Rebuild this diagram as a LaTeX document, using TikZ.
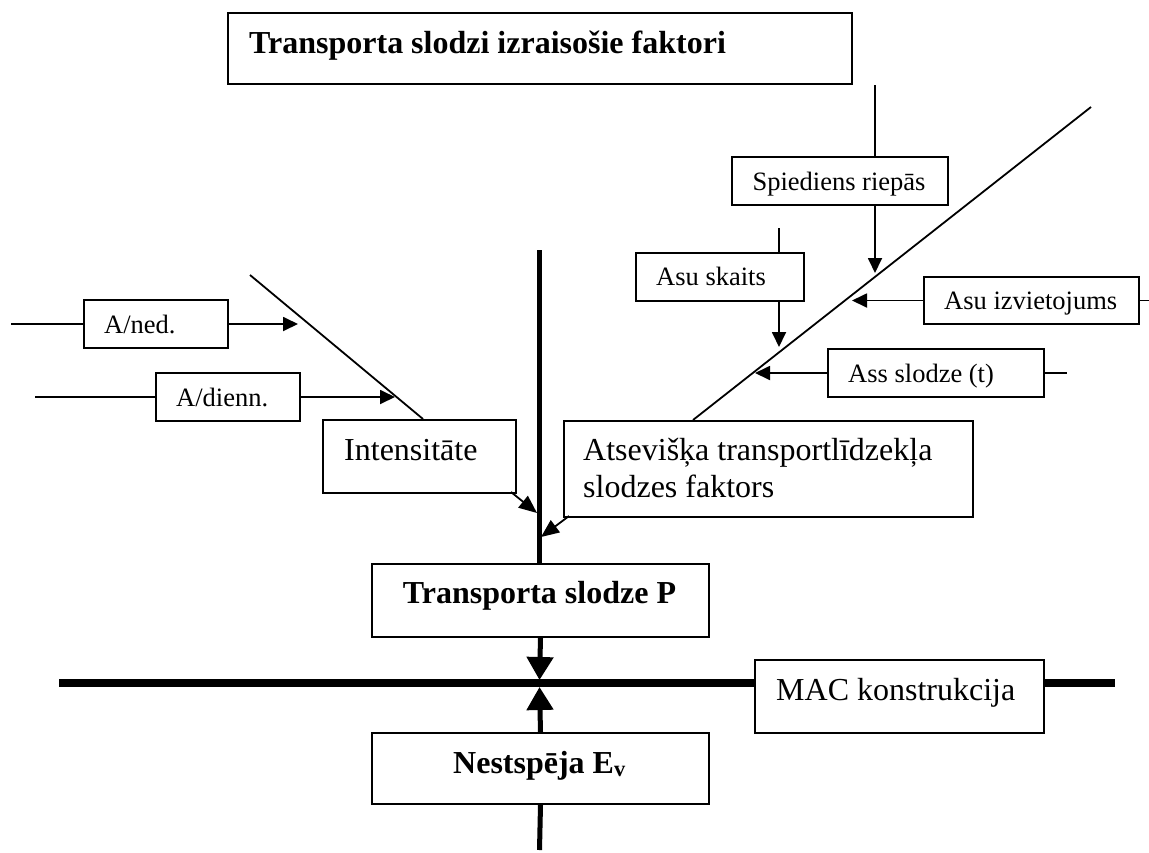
\documentclass[tikz,border=0pt]{standalone}
\usepackage{fontspec}
\setmainfont{Liberation Serif}
\usetikzlibrary{arrows.meta}
\begin{document}
\begin{tikzpicture}[x=1pt,y=-1pt,
 box/.style={draw,line width=2pt,fill=white,inner sep=0pt,anchor=north west},
 bigtxt/.style={font=\fontsize{32}{37}\selectfont,inner sep=0pt},
 bigbold/.style={font=\fontsize{32}{37}\selectfont\bfseries,inner sep=0pt},
 smalltxt/.style={font=\fontsize{26.5}{30}\selectfont,inner sep=0pt},
 thinln/.style={line width=1.8pt},
 arr/.style={thinln,-{Triangle[length=15pt,width=14pt]}},
 darr/.style={thinln,-{Triangle[length=18pt,width=15pt]}},
 heavy/.style={line width=5pt},
 heavyarr/.style={line width=5pt,-{Triangle[length=23pt,width=26pt]}},
 mac/.style={line width=8pt},
]
\useasboundingbox (0,0) rectangle (1149,852);

% ---------- coordinates ----------
\coordinate (dr1) at (1091,107);
\coordinate (dr2) at (693,420);
\coordinate (dl1) at (250,275);
\coordinate (dl2) at (423,419);
\coordinate (spx) at (875,0);
\coordinate (askx) at (779,228);
\coordinate (tipsp) at (875,273);
\coordinate (tipask) at (779,347);
\coordinate (tipizv) at (852,0);
\coordinate (tipass) at (755,0);
\coordinate (endizv) at (1149,0);
\coordinate (endass) at (1067,0);
\coordinate (startned) at (11,0);
\coordinate (tipned) at (298,0);
\coordinate (startdien) at (35,0);
\coordinate (tipdien) at (395,0);
\coordinate (vtop) at (539.5,250);
\coordinate (tipint) at (537,513);
\coordinate (tipats) at (541,537);
\coordinate (intstart) at (511,492);
\coordinate (atsstart) at (569,516);
\coordinate (macl) at (59,683);
\coordinate (macr) at (1115,683);
\coordinate (tipdown) at (539.5,680);
\coordinate (tipup) at (539.5,687);
\coordinate (vbot) at (539.5,850);

% ---------- lines behind boxes ----------
\draw[mac] (macl) -- (macr);
\draw[thinln] (dr1) -- (dr2);
\draw[thinln] (dl1) -- (dl2);

% ---------- boxes ----------
\node[box,minimum width=624,minimum height=71] (title) at (227,12) {};
\node[box,minimum width=216,minimum height=48] (spied) at (731,156) {};
\node[box,minimum width=168,minimum height=48] (asusk) at (635,252) {};
\node[box,minimum width=215,minimum height=47] (asuizv) at (923,276) {};
\node[box,minimum width=216,minimum height=48] (assl) at (827,348) {};
\node[box,minimum width=409,minimum height=96] (atsev) at (563,420) {};
\node[box,minimum width=193,minimum height=73] (intens) at (322,419) {};
\node[box,minimum width=144,minimum height=48] (aned) at (83,299) {};
\node[box,minimum width=144,minimum height=48] (adien) at (155,372) {};
\node[box,minimum width=337,minimum height=73] (tslod) at (371,563) {};
\node[box,minimum width=289,minimum height=73] (macbox) at (754,659) {};
\node[box,minimum width=337,minimum height=71] (nest) at (371,732) {};

% ---------- texts ----------
\node[bigbold,anchor=base west] (ttitle) at (249,53) {Transporta slodzi izraisošie faktori};
\node[smalltxt,anchor=base] (tspied) at (839,190) {Spiediens riepās};
\node[smalltxt,anchor=base west] (tasusk) at (656,285) {Asu skaits};
\node[smalltxt,anchor=base west] (tasuizv) at (944,309) {Asu izvietojums};
\node[smalltxt,anchor=base west] (tassl) at (848,382) {Ass slodze (t)};
\node[bigtxt,anchor=base west] (tatsev1) at (583,460) {Atsevišķa transportlīdzekļa};
\node[bigtxt,anchor=base west] (tatsev2) at (583,497) {slodzes faktors};
\node[bigtxt,anchor=base west] (tintens) at (344,460) {Intensitāte};
\node[smalltxt,anchor=base west] (taned) at (104,333) {A/ned.};
\node[smalltxt,anchor=base west] (tadien) at (176,406) {A/dienn.};
\node[bigbold,anchor=base] (ttslod) at (539.5,603) {Transporta slodze P};
\node[bigtxt,anchor=base west] (tmac) at (776,700) {MAC konstrukcija};
\node[bigbold,anchor=base] (tnest) at (539.5,773) {Nestspēja E\textsubscript{v}};

% ---------- connectors ----------
\draw[thinln] (spx |- title.south) -- (spx |- spied.north);
\draw[arr] (spx |- spied.south) -- (tipsp);
\draw[thinln] (askx) -- (askx |- asusk.north);
\draw[arr] (askx |- asusk.south) -- (tipask);
\draw[thinln] (asuizv.east) -- (endizv |- asuizv.east);
\draw[arr] (asuizv.west) -- (tipizv |- asuizv.west);
\draw[thinln] (assl.east) -- (endass |- assl.east);
\draw[arr] (assl.west) -- (tipass |- assl.west);
\draw[thinln] (startned |- aned.west) -- (aned.west);
\draw[arr] (aned.east) -- (tipned |- aned.east);
\draw[thinln] (startdien |- adien.west) -- (adien.west);
\draw[arr] (adien.east) -- (tipdien |- adien.east);

\draw[heavy] (vtop) -- (vtop |- tslod.north);
\draw[darr] (intstart) -- (tipint);
\draw[darr] (atsstart) -- (tipats);
\draw[heavyarr] (tslod.south) -- (tipdown);
\draw[heavyarr] (nest.north) -- (tipup);
\draw[heavy] (nest.south) -- (vbot);
\end{tikzpicture}
\end{document}
